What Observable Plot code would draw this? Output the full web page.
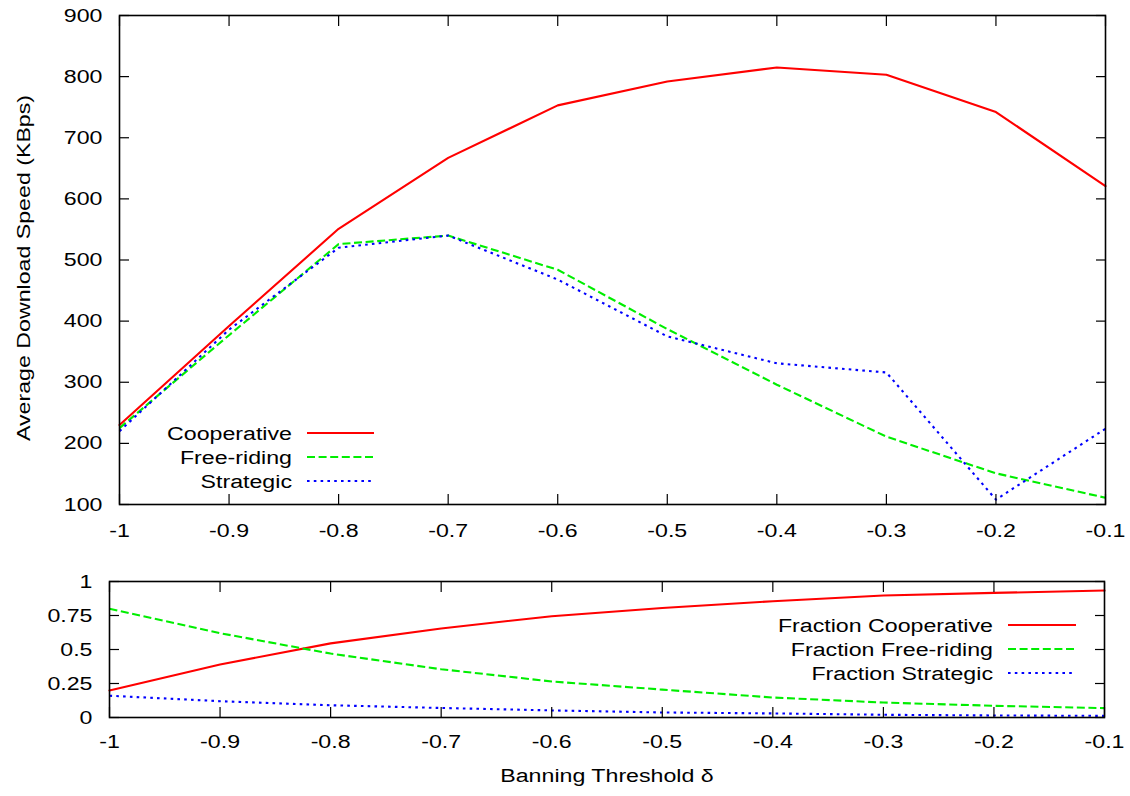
<!DOCTYPE html>
<html>
<head>
<meta charset="utf-8">
<script src="https://cdn.jsdelivr.net/npm/d3@7"></script>
<script src="https://cdn.jsdelivr.net/npm/@observablehq/plot@0.6"></script>
<style>
  body { margin: 0; background: #fff; }
  #chart { position: relative; width: 1130px; height: 796px; background: #fff; }
  #chart svg { position: absolute; left: 0; overflow: visible; }
</style>
</head>
<body>
<div id="chart"></div>
<script>
// Banning threshold δ (x axis of both panels)
const thresholds = [-1, -0.9, -0.8, -0.7, -0.6, -0.5, -0.4, -0.3, -0.2, -0.1];

// Average download speed (KBps) per peer class
const speedCooperative = [230, 392, 551, 667, 753, 792, 815, 803, 742, 621];
const speedFreeRiding  = [225, 377, 526, 540, 484, 387, 296, 211, 151, 111];
const speedStrategic   = [220, 386, 520, 540, 468, 375, 331, 316, 108, 224];

// Fraction of peers in each class
const fracCooperative = [0.198, 0.39, 0.545, 0.655, 0.745, 0.805, 0.855, 0.897, 0.916, 0.934];
const fracFreeRiding  = [0.80, 0.62, 0.47, 0.355, 0.265, 0.205, 0.147, 0.11, 0.086, 0.069];
const fracStrategic   = [0.16, 0.12, 0.09, 0.07, 0.052, 0.037, 0.03, 0.02, 0.015, 0.012];

// Tick values
const xTicks = thresholds;
const speedTicks = [100, 200, 300, 400, 500, 600, 700, 800, 900];
const fracTicks = [0, 0.25, 0.5, 0.75, 1];

// Series names and styles
const speedNames = ["Cooperative", "Free-riding", "Strategic"];
const fracNames = ["Fraction Cooperative", "Fraction Free-riding", "Fraction Strategic"];
const colors = ["#ff0000", "#00ee00", "#0000ff"];
const dashes = [null, "8,3.6", "2.6,4.2"];

const FONT = "'Liberation Sans', Arial, Helvetica, sans-serif";
const FONT_SIZE = 19;
const WIDEN = 1.22; // glyphs are drawn wider than tall

const rows = (ys) => thresholds.map((d, i) => ({delta: d, value: ys[i]}));
const fmt = (d) => String(+(+d).toFixed(2));

function seriesMarks(seriesList) {
  return seriesList.map((ys, i) =>
    Plot.line(rows(ys), {
      x: "delta", y: "value",
      stroke: colors[i], strokeWidth: 2.1,
      strokeDasharray: dashes[i] ?? undefined,
      strokeLinecap: dashes[i] ? "butt" : "round"
    })
  );
}

function frameAxes(yTicks, xPad) {
  return [
    // inward ticks on all four sides
    Plot.axisY(yTicks, {anchor: "left", tickSize: 10, dx: 10, fill: "none", strokeWidth: 1.2, label: null}),
    Plot.axisY(yTicks, {anchor: "right", tickSize: 10, dx: -10, fill: "none", strokeWidth: 1.2, label: null}),
    Plot.axisX(xTicks, {anchor: "bottom", tickSize: 10, dy: -10, fill: "none", strokeWidth: 1.2, label: null}),
    Plot.axisX(xTicks, {anchor: "top", tickSize: 10, dy: 10, fill: "none", strokeWidth: 1.2, label: null}),
    // tick labels
    Plot.axisY(yTicks, {anchor: "left", tickSize: 0, tickPadding: 17, tickFormat: fmt, fill: "#000", label: null}),
    Plot.axisX(xTicks, {anchor: "bottom", tickSize: 0, tickPadding: xPad, tickFormat: fmt, fill: "#000", label: null}),
    Plot.frame({stroke: "#000", strokeWidth: 1.6})
  ];
}

function addLegend(svg, names, xTextEnd, xLine1, xLine2, yRows) {
  const g = d3.select(svg).append("g").attr("class", "legend");
  names.forEach((name, i) => {
    g.append("text")
      .attr("transform", `translate(${xTextEnd},${yRows[i] + 6.8})`)
      .attr("text-anchor", "end")
      .attr("fill", "#000")
      .style("font-family", FONT)
      .style("font-size", FONT_SIZE + "px")
      .text(name);
    g.append("line")
      .attr("x1", xLine1).attr("x2", xLine2)
      .attr("y1", yRows[i]).attr("y2", yRows[i])
      .attr("stroke", colors[i]).attr("stroke-width", 2.1)
      .attr("stroke-dasharray", dashes[i]);
  });
}

// stretch every label along its own reading direction
function widenText(svg, k) {
  svg.querySelectorAll("text").forEach((t) => {
    const tr = t.getAttribute("transform") || "";
    t.setAttribute("transform", `${tr} scale(${k},1)`);
  });
}

const style = {fontFamily: FONT, fontSize: FONT_SIZE + "px", background: "transparent", color: "#000", overflow: "visible"};

// Upper panel: average download speed
const speedPlot = Plot.plot({
  width: 1130, height: 540,
  marginTop: 15, marginBottom: 36, marginLeft: 119, marginRight: 25,
  style,
  x: {domain: [-1, -0.1], label: null},
  y: {domain: [100, 900], label: null},
  marks: [
    ...seriesMarks([speedCooperative, speedFreeRiding, speedStrategic]),
    ...frameAxes(speedTicks, 19),
    Plot.text(["Average Download Speed (KBps)"], {
      frameAnchor: "left", rotate: -90, dx: -96, dy: 8,
      textAnchor: "middle", lineAnchor: "middle", fill: "#000"
    })
  ]
});
speedPlot.style.top = "0px";
addLegend(speedPlot, speedNames, 292, 307, 374, [433, 457, 481]);
widenText(speedPlot, WIDEN);

// Lower panel: fraction of peers in each class
const fracPlot = Plot.plot({
  width: 1130, height: 256,
  marginTop: 41, marginBottom: 79, marginLeft: 109, marginRight: 26,
  style,
  x: {domain: [-1, -0.1], label: null},
  y: {domain: [0, 1], label: null},
  marks: [
    ...seriesMarks([fracCooperative, fracFreeRiding, fracStrategic]),
    ...frameAxes(fracTicks, 17),
    Plot.text(["Banning Threshold δ"], {
      frameAnchor: "bottom", dy: 58,
      textAnchor: "middle", lineAnchor: "middle", fill: "#000"
    })
  ]
});
fracPlot.style.top = "540px";
addLegend(fracPlot, fracNames, 993, 1008, 1076, [85, 109, 133]);
widenText(fracPlot, WIDEN);

const chart = document.getElementById("chart");
chart.appendChild(speedPlot);
chart.appendChild(fracPlot);
</script>
</body>
</html>
